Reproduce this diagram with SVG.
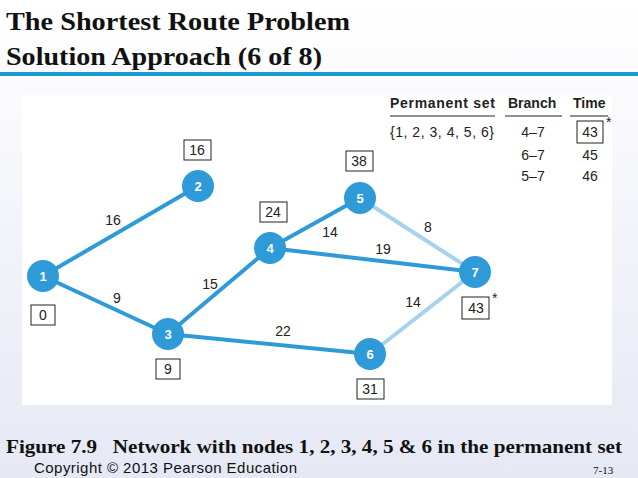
<svg xmlns="http://www.w3.org/2000/svg" width="638" height="478" viewBox="0 0 638 478">
<defs>
<linearGradient id="bg" x1="0" y1="0" x2="0" y2="1"><stop offset="0" stop-color="#ffffff"/><stop offset="1" stop-color="#e6e8f4"/></linearGradient>
<style>
.t{font-family:"Liberation Serif",serif;fill:#111}
.s{font-family:"Liberation Sans",Arial,sans-serif;font-size:14px;fill:#222}
.nl{font-family:"Liberation Sans",Arial,sans-serif;font-size:13px;font-weight:bold;fill:#fff;text-anchor:middle}
.n{fill:#2e9ad8}
.e{stroke:#2e9ad8;stroke-width:4;fill:none}
.el{stroke:#a6d2ef;stroke-width:4;fill:none}
.b{fill:#fff;stroke:#222;stroke-width:1}
.m{text-anchor:middle}
</style>
</defs>
<rect width="638" height="478" fill="url(#bg)"/>
<text class="t" x="6" y="30" font-size="26" font-weight="bold" textLength="344" lengthAdjust="spacingAndGlyphs">The Shortest Route Problem</text>
<text class="t" x="6" y="65" font-size="26" font-weight="bold" textLength="316" lengthAdjust="spacingAndGlyphs">Solution Approach (6 of 8)</text>
<rect x="0" y="72" width="638" height="4" fill="#1a9ad0"/>
<rect x="22" y="95" width="590" height="310" fill="#fff"/>
<g id="table">
<text class="s" x="390" y="108" font-weight="bold" textLength="105">Permanent set</text>
<text class="s" x="508" y="108" font-weight="bold">Branch</text>
<text class="s" x="573" y="108" font-weight="bold">Time</text>
<line x1="390" y1="116" x2="495" y2="116" stroke="#222"/>
<line x1="505" y1="116" x2="562" y2="116" stroke="#222"/>
<line x1="570" y1="116" x2="608" y2="116" stroke="#222"/>
<text class="s" x="390" y="137" textLength="104">{1, 2, 3, 4, 5, 6}</text>
<text class="s m" x="533" y="137">4–7</text>
<text class="s m" x="533" y="160">6–7</text>
<text class="s m" x="533" y="181">5–7</text>
<rect class="b" x="577" y="121" width="26" height="22"/>
<text class="s m" x="590" y="137">43</text>
<text class="s" x="606" y="127" font-size="10">*</text>
<text class="s m" x="590" y="160">45</text>
<text class="s m" x="590" y="181">46</text>
</g>
<g id="connectors">
<line class="el" x1="360" y1="198" x2="475" y2="272"/>
<line class="el" x1="370" y1="354" x2="475" y2="272"/>
<line class="e" x1="43" y1="276" x2="198" y2="186"/>
<line class="e" x1="43" y1="276" x2="168" y2="334"/>
<line class="e" x1="168" y1="334" x2="270" y2="248"/>
<line class="e" x1="270" y1="248" x2="360" y2="198"/>
<line class="e" x1="270" y1="248" x2="475" y2="272"/>
<line class="e" x1="168" y1="334" x2="370" y2="354"/>
<text class="s m" x="113" y="225">16</text>
<text class="s m" x="117" y="303">9</text>
<text class="s m" x="210" y="289">15</text>
<text class="s m" x="330" y="237">14</text>
<text class="s m" x="428" y="232">8</text>
<text class="s m" x="383" y="254">19</text>
<text class="s m" x="413" y="307">14</text>
<text class="s m" x="283" y="336">22</text>
</g>
<g id="node1"><circle class="n" cx="43" cy="276" r="16"/><text class="nl" x="43" y="281">1</text><rect class="b" x="31" y="305" width="24" height="20"/><text class="s m" x="43" y="320">0</text></g>
<g id="node2"><circle class="n" cx="198" cy="186" r="16"/><text class="nl" x="198" y="191">2</text><rect class="b" x="184" y="140" width="27" height="20"/><text class="s m" x="197" y="155">16</text></g>
<g id="node3"><circle class="n" cx="168" cy="334" r="16"/><text class="nl" x="168" y="339">3</text><rect class="b" x="156" y="359" width="24" height="20"/><text class="s m" x="168" y="374">9</text></g>
<g id="node4"><circle class="n" cx="270" cy="248" r="16"/><text class="nl" x="270" y="253">4</text><rect class="b" x="260" y="202" width="27" height="20"/><text class="s m" x="273" y="217">24</text></g>
<g id="node5"><circle class="n" cx="360" cy="198" r="16"/><text class="nl" x="360" y="203">5</text><rect class="b" x="346" y="151" width="27" height="20"/><text class="s m" x="359" y="166">38</text></g>
<g id="node6"><circle class="n" cx="370" cy="354" r="16"/><text class="nl" x="370" y="359">6</text><rect class="b" x="357" y="379" width="27" height="20"/><text class="s m" x="370" y="394">31</text></g>
<g id="node7"><circle class="n" cx="475" cy="272" r="16"/><text class="nl" x="475" y="277">7</text><rect class="b" x="462" y="297" width="27" height="22"/><text class="s m" x="476" y="313">43</text><text class="s" x="492" y="303" font-size="10">*</text></g>
<text class="t" x="6" y="453" font-size="19" font-weight="bold" xml:space="preserve" textLength="616" lengthAdjust="spacingAndGlyphs">Figure 7.9   Network with nodes 1, 2, 3, 4, 5 &amp; 6 in the permanent set</text>
<text x="34" y="473" font-family="Liberation Sans,Arial,sans-serif" font-size="15" fill="#111" textLength="263">Copyright © 2013 Pearson Education</text>
<text class="t" x="593" y="474" font-size="11">7-13</text>
</svg>
